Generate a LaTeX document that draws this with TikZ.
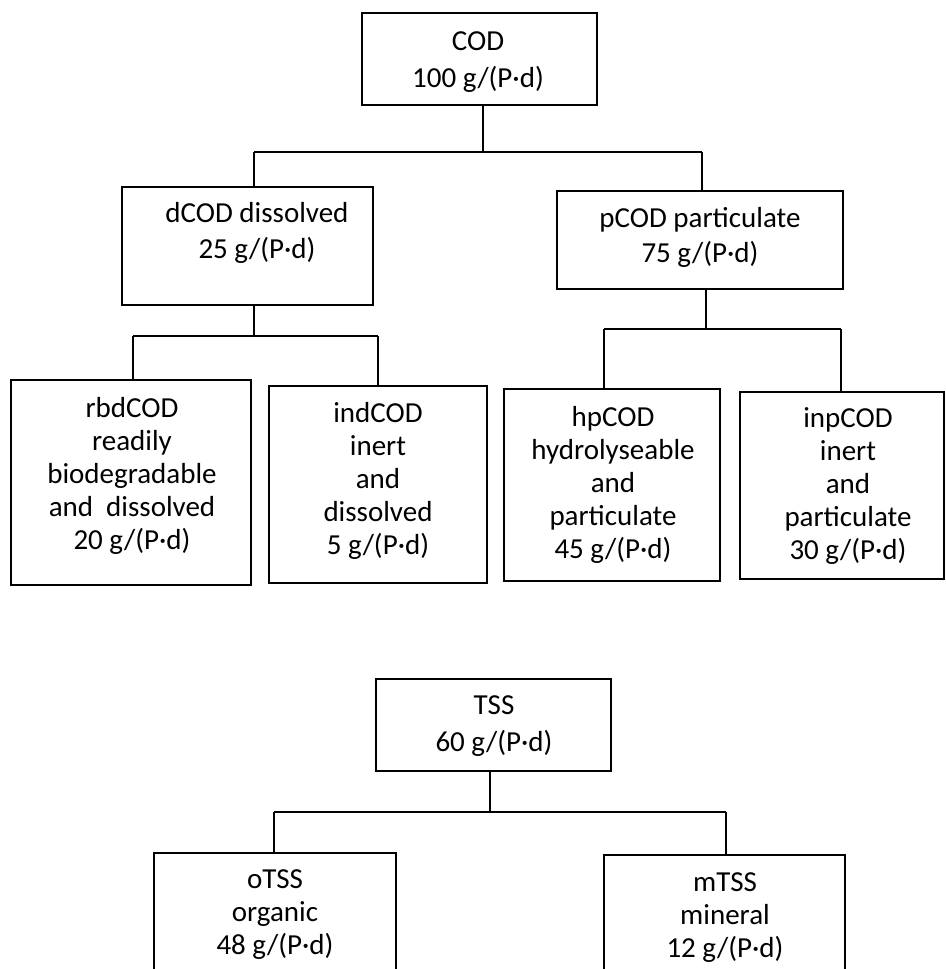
\documentclass[tikz,border=0pt]{standalone}
\usepackage{fontspec}
\setmainfont{Carlito}
\begin{document}
\begin{tikzpicture}[x=1pt,y=-1pt,
  box/.style={draw, line width=1.6pt, inner sep=0pt},
  txt/.style={align=center, inner sep=0pt, font=\fontsize{29}{36}\selectfont},
  txtb/.style={align=center, inner sep=0pt, font=\fontsize{29}{33}\selectfont},
  wire/.style={line width=1.1pt}]
\clip (0,0) rectangle (945,969);
\fill[white] (0,0) rectangle (945,969);
% boxes
\node[box, minimum width=235pt, minimum height=92pt]  (cod)  at (479.5,59) {};
\node[box, minimum width=251pt, minimum height=118pt] (dcod) at (247.5,246) {};
\node[box, minimum width=286pt, minimum height=98pt]  (pcod) at (700,240) {};
\node[box, minimum width=240pt, minimum height=205pt] (rbd)  at (131,482.5) {};
\node[box, minimum width=218pt, minimum height=197pt] (ind)  at (378,484.5) {};
\node[box, minimum width=216pt, minimum height=192pt] (hp)   at (612,485) {};
\node[box, minimum width=204pt, minimum height=187pt] (inp)  at (842,485.5) {};
\node[box, minimum width=235pt, minimum height=92pt]  (tss)  at (493.5,725) {};
\node[box, minimum width=242pt, minimum height=122pt] (ots)  at (275,914) {};
\node[box, minimum width=241pt, minimum height=122pt] (mts)  at (724.5,916) {};
% texts
\node[txt, font=\fontsize{29}{37}\selectfont] (codt) at (478,62) {COD\\100 g/(P·d)};
\node[txt] (dcodt) at (257,233) {dCOD dissolved\\25 g/(P·d)};
\node[txt, font=\fontsize{29}{35}\selectfont] (pcodt) at (700,237.5) {pCOD particulate\\75 g/(P·d)};
\node[txtb] (rbdt) at (132,476) {rbdCOD\\readily\\biodegradable\\and \ dissolved\\20 g/(P·d)};
\node[txtb] (indt) at (378,481) {indCOD\\inert\\and\\dissolved\\5 g/(P·d)};
\node[txtb] (hpt) at (613,484.5) {hpCOD\\hydrolyseable\\and\\particulate\\45 g/(P·d)};
\node[txtb] (inpt) at (848,486) {inpCOD\\inert\\and\\particulate\\30 g/(P·d)};
\node[txt, font=\fontsize{29}{37}\selectfont] (tsst) at (494,726.5) {TSS\\60 g/(P·d)};
\node[txtb] (otst) at (275,915) {oTSS\\organic\\48 g/(P·d)};
\node[txtb] (mtst) at (725,918) {mTSS\\mineral\\12 g/(P·d)};
% junctions
\coordinate (a1) at (483,152); \coordinate (a1l) at (254,152); \coordinate (a1r) at (702,152);
\coordinate (b1) at (254,336); \coordinate (b1l) at (133,336); \coordinate (b1r) at (378,336);
\coordinate (c1) at (706,329); \coordinate (c1l) at (604,329); \coordinate (c1r) at (841,329);
\coordinate (d1) at (490,812); \coordinate (d1l) at (274,812); \coordinate (d1r) at (726,812);
% connectors
\draw[wire] (cod.south -| a1) -- (a1);
\draw[wire] (a1l) -- (a1r);
\draw[wire] (a1l) -- (a1l |- dcod.north);
\draw[wire] (a1r) -- (a1r |- pcod.north);
\draw[wire] (dcod.south -| b1) -- (b1);
\draw[wire] (b1l) -- (b1r);
\draw[wire] (b1l) -- (b1l |- rbd.north);
\draw[wire] (b1r) -- (b1r |- ind.north);
\draw[wire] (pcod.south -| c1) -- (c1);
\draw[wire] (c1l) -- (c1r);
\draw[wire] (c1l) -- (c1l |- hp.north);
\draw[wire] (c1r) -- (c1r |- inp.north);
\draw[wire] (tss.south -| d1) -- (d1);
\draw[wire] (d1l) -- (d1r);
\draw[wire] (d1l) -- (d1l |- ots.north);
\draw[wire] (d1r) -- (d1r |- mts.north);
\end{tikzpicture}
\end{document}
